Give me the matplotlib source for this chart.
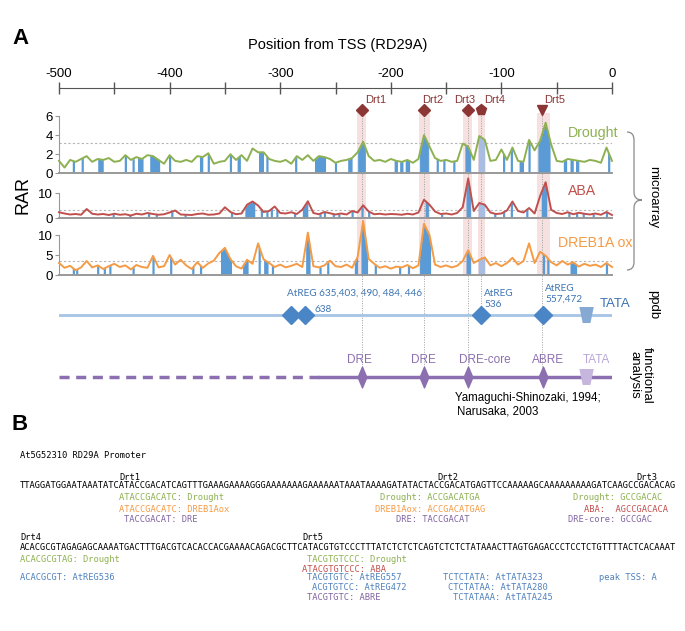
import numpy as np
import matplotlib
matplotlib.use("Agg")
import matplotlib.pyplot as plt
from matplotlib.patches import Polygon, Rectangle, PathPatch
from matplotlib.path import Path
from matplotlib.markers import MarkerStyle
from matplotlib.ticker import MultipleLocator

plt.rcParams['font.family'] = ['Liberation Sans', 'DejaVu Sans']
plt.rcParams['axes.unicode_minus'] = False

##### data
pos = np.arange(-500, 1, 5)   # position from TSS, every 5 bp

drought = [1.3, 0.6, 1.4, 1.2, 1.5, 1.8, 1.2, 1.5, 1.4, 1.6,
           1.2, 1.3, 1.9, 1.4, 1.7, 1.5, 1.9, 1.8, 1.4, 1.0,
           1.9, 1.3, 1.2, 1.4, 1.2, 1.8, 1.7, 2.1, 1.0, 1.2,
           1.3, 2.0, 1.4, 1.9, 1.3, 2.6, 2.2, 2.2, 1.5, 1.3,
           1.2, 1.4, 1.0, 1.8, 1.4, 1.9, 1.3, 1.8, 1.7, 1.5,
           1.1, 1.3, 1.4, 1.6, 2.2, 3.3, 1.8, 1.3, 1.4, 1.2,
           1.5, 1.3, 1.2, 1.4, 1.1, 1.5, 4.0, 2.8, 1.6, 1.3,
           1.4, 1.2, 1.3, 3.1, 2.8, 1.4, 3.9, 3.5, 1.3, 1.4,
           2.5, 1.4, 2.7, 1.3, 1.2, 3.5, 2.4, 3.4, 5.3, 3.0,
           1.3, 1.2, 1.5, 1.4, 1.3, 1.2, 1.4, 1.3, 1.1, 2.7,
           1.3]
aba = [2.5, 2.0, 1.6, 1.8, 1.5, 3.8, 1.9, 1.6, 1.8, 1.4,
       1.9, 1.5, 1.7, 1.2, 1.9, 1.6, 2.2, 1.8, 1.5, 1.7,
       2.4, 3.2, 1.6, 1.5, 1.4, 1.8, 2.0, 1.5, 1.6, 2.0,
       4.5, 2.6, 1.7, 2.0, 5.5, 6.8, 5.2, 2.6, 3.0, 4.8,
       2.2, 2.0, 2.5, 1.8, 3.5, 6.9, 2.2, 1.7, 2.6, 2.1,
       1.6, 2.0, 1.6, 3.0, 2.4, 5.3, 2.8, 1.7, 1.9, 1.6,
       1.8, 1.7, 1.5, 1.9, 1.6, 2.4, 7.5, 5.5, 2.8, 1.8,
       2.0, 1.6, 2.2, 4.5, 16.0, 3.0, 6.2, 5.5, 2.4, 1.8,
       2.0, 3.2, 6.8, 3.0, 2.4, 4.2, 2.0, 9.0, 14.5, 3.5,
       2.2, 1.8, 2.5, 1.7, 2.3, 1.9, 1.6, 2.0, 1.5, 2.6,
       1.4]
dreb1a = [3.0, 1.8, 2.3, 1.2, 1.9, 3.5, 1.9, 2.4, 1.5, 2.2,
          2.8, 2.0, 2.4, 1.4, 2.5, 2.0, 1.8, 4.8, 1.9, 2.2,
          5.0, 2.6, 3.8, 2.4, 1.5, 3.2, 1.8, 2.9, 3.6, 5.5,
          6.8, 4.0, 2.2, 1.6, 3.8, 2.8, 7.9, 3.9, 3.0, 2.0,
          2.6, 1.9, 2.3, 2.8, 2.0, 10.6, 2.2, 1.9, 2.4, 3.6,
          2.2, 2.0, 2.6, 1.8, 4.5, 13.5, 4.0, 2.8, 1.8, 2.2,
          1.6, 2.1, 1.9, 2.5, 1.7, 2.4, 12.8, 10.0, 2.6, 2.0,
          2.4, 1.9, 2.3, 3.5, 6.2, 3.0, 3.8, 4.4, 2.4, 3.0,
          2.2, 3.0, 4.3, 2.6, 3.5, 7.9, 3.0, 5.8, 4.8, 3.2,
          2.4, 3.5, 2.6, 3.2, 2.1, 2.8, 2.3, 2.6, 2.0, 3.0,
          2.0]

# stretches shaded blue under each profile (start, end)
drought_blue = [(-488, -486), (-480, -478), (-465, -460), (-441, -439), (-434, -432),
                (-429, -424), (-418, -409), (-401, -399), (-373, -370), (-366, -364),
                (-346, -344), (-339, -336), (-319, -315), (-313, -311), (-287, -285),
                (-269, -259), (-251, -249), (-239, -235), (-230, -223), (-197, -194),
                (-192, -189), (-187, -183), (-174, -166), (-159, -157), (-153, -151),
                (-144, -142), (-133, -128), (-99, -97), (-92, -90), (-84, -80),
                (-76, -74), (-67, -56), (-44, -41), (-38, -35), (-33, -30), (-4, -2)]
aba_blue = [(-452, -450), (-437, -435), (-420, -418), (-413, -411), (-399, -397),
            (-387, -385), (-345, -343), (-332, -323), (-318, -316), (-313, -311),
            (-309, -307), (-304, -302), (-288, -286), (-280, -275), (-265, -263),
            (-261, -259), (-253, -251), (-248, -246), (-236, -234), (-227, -225),
            (-221, -219), (-169, -166), (-155, -153), (-132, -128), (-107, -105),
            (-99, -97), (-92, -90), (-78, -76), (-64, -59), (-40, -38), (-33, -31),
            (-27, -25), (-18, -16), (-6, -4)]
dreb1a_blue = [(-488, -486), (-485, -483), (-466, -464), (-460, -458), (-455, -453),
               (-434, -432), (-416, -414), (-400, -398), (-380, -378), (-373, -371),
               (-354, -344), (-334, -329), (-320, -318), (-315, -311), (-308, -306),
               (-277, -273), (-265, -263), (-258, -256), (-233, -230), (-227, -221),
               (-215, -213), (-193, -191), (-185, -183), (-174, -164), (-132, -128),
               (-63, -61), (-59, -57), (-38, -32), (-6, -4)]
drt4_light = (-121, -115)

thresholds = [3.2, 3.3, 3.5]

drt_names = ['Drt1', 'Drt2', 'Drt3', 'Drt4', 'Drt5']
drt_pos = [-226, -170, -130, -118, -63]
drt_bands = [(-230.6, -222.5), (-174.2, -164.6), (-134.4, -126.8), (-121.5, -114.6), (-68.1, -56.1)]

ppdb_sites = [-290, -278, -118, -62]
func_sites = [-226, -170, -130, -62]
func_names = ['DRE', 'DRE', 'DRE-core', 'ABRE']
tata_pos = -23
func_known_from = -264

ruler_ticks = [-500, -400, -300, -200, -100, 0]

seq1 = "TTAGGATGGAATAAATATCATACCGACATCAGTTTGAAAGAAAAGGGAAAAAAAGAAAAAATAAATAAAAGATATACTACCGACATGAGTTCCAAAAAGCAAAAAAAAAGATCAAGCCGACACAG"
seq2 = "ACACGCGTAGAGAGCAAAATGACTTTGACGTCACACCACGAAAACAGACGCTTCATACGTGTCCCTTTATCTCTCTCAGTCTCTCTATAAACTTAGTGAGACCCTCCTCTGTTTTACTCACAAAT"
seq1_drt = [('Drt1', 19), ('Drt2', 80), ('Drt3', 118)]
seq2_drt = [('Drt4', 0), ('Drt5', 54)]
# (row, motif, search start, label, motif written first?, colour key)
seq1_notes = [(1, 'ATACCGACATC', 0, 'Drought', True, 'drought'),
              (1, 'ACCGACATGA', 70, 'Drought', False, 'drought'),
              (1, 'GCCGACAC', 110, 'Drought', False, 'drought'),
              (2, 'ATACCGACATC', 0, 'DREB1Aox', True, 'dreb'),
              (2, 'ACCGACATGAG', 70, 'DREB1Aox', False, 'dreb'),
              (2, 'AGCCGACACA', 110, 'ABA', False, 'aba'),
              (3, 'TACCGACAT', 0, 'DRE', True, 'func'),
              (3, 'TACCGACAT', 70, 'DRE', False, 'func'),
              (3, 'GCCGAC', 110, 'DRE-core', False, 'func')]
seq2_notes = [(1, 'ACACGCGTAG', 0, 'Drought', True, 'drought'),
              (1, 'TACGTGTCCC', 50, 'Drought', True, 'drought'),
              (2, 'ATACGTGTCCC', 50, 'ABA', True, 'aba'),
              (3, 'ACACGCGT', 0, 'AtREG536', True, 'ppdb'),
              (3, 'TACGTGTC', 50, 'AtREG557', True, 'ppdb'),
              (3, 'TCTCTATA', 75, 'AtTATA323', True, 'ppdb'),
              (3, 'A', 121, 'peak TSS', False, 'ppdb'),
              (4, 'ACGTGTCC', 50, 'AtREG472', True, 'ppdb'),
              (4, 'CTCTATAA', 75, 'AtTATA280', True, 'ppdb'),
              (5, 'TACGTGTC', 50, 'ABRE', True, 'func'),
              (5, 'TCTATAAA', 75, 'AtTATA245', True, 'ppdb')]

##### styling
W, H = 685, 631
X0, X1 = 59, 612
BLUE = '#5b9bd5'
colors = {'drought': '#8db150', 'aba': '#c0504d', 'dreb': '#f59b45',
          'func': '#8064a2', 'ppdb': '#4f81bd'}
DRT_RED = '#8b3535'
PPDB_BLUE = '#3d74b4'
FUNC_PURPLE = '#8c6fb0'
GRAY = '#999999'

fig = plt.figure(figsize=(W / 100, H / 100), dpi=100)


def box(x0, y0, x1, y1):
    # pixel box (origin top-left) -> figure fraction rect
    return [x0 / W, 1 - y1 / H, (x1 - x0) / W, (y1 - y0) / H]


ax_px = fig.add_axes([0, 0, 1, 1])
ax_px.set_xlim(0, W)
ax_px.set_ylim(H, 0)
ax_px.axis('off')

ax_main = fig.add_axes(box(X0, 0, X1, H))
ax_main.set_xlim(-500, 0)
ax_main.set_ylim(H, 0)
ax_main.axis('off')

# panel letters, title
ax_px.text(12, 38, 'A', fontsize=16, fontweight='bold', va='center')
ax_px.text(12, 424, 'B', fontsize=16, fontweight='bold', va='center')
ax_px.text(338, 45, 'Position from TSS (RD29A)', ha='center', va='center', fontsize=10.5)

# ruler
ax_r = fig.add_axes(box(X0, 88, X1, 88.01))
ax_r.set_xlim(-500, 0)
ax_r.set_yticks([])
for s in ['left', 'right', 'bottom']:
    ax_r.spines[s].set_visible(False)
ax_r.spines['top'].set_color('#555555')
ax_r.xaxis.tick_top()
ax_r.set_xticks(ruler_ticks)
ax_r.xaxis.set_minor_locator(MultipleLocator(50))
ax_r.tick_params(axis='x', which='both', direction='inout', length=8, width=1,
                 color='#555555', labelsize=9.5, pad=1.5)

# Drt bands, markers, guide lines
for (a, b) in drt_bands:
    ax_main.add_patch(Rectangle((a, 113), b - a, 162, facecolor='#eab3b3', alpha=0.4, lw=0, zorder=0))
bottoms = [377, 377, 377, 315, 377]
ax_main.vlines(drt_pos, 113, bottoms, colors='#a0a0a0', linestyles=(0, (1, 1.5)), lw=0.7, zorder=0)
drt_marker = ['D', 'D', 'D', 'p', 'v']
drt_msize = [6.5, 6.5, 6.5, 8, 7]
drt_dx = [3, -2, -14, 3, 2]
for name, x, m, ms, dx in zip(drt_names, drt_pos, drt_marker, drt_msize, drt_dx):
    ax_main.plot(x, 110, marker=m, ms=ms, color=DRT_RED, mec=DRT_RED, zorder=5, clip_on=False)
    ax_main.text(x + dx / 1.106, 100, name, fontsize=8, color=DRT_RED, ha='left', va='center')


# RAR tracks
def track(vals, blue, thr, ymax, yticks, y_base, ppu, color, label, lx, ly):
    ax = fig.add_axes(box(X0, y_base - ymax * ppu, X1, y_base))
    ax.set_xlim(-500, 0)
    ax.set_ylim(0, ymax)
    ax.patch.set_alpha(0)
    for (a, b) in blue:
        xs = np.linspace(a, b, 6)
        pc = ax.fill_between(xs, 0, np.interp(xs, pos, vals), color=BLUE, lw=0, zorder=2)
        pc.set_clip_on(False)
    xs = np.linspace(*drt4_light, 6)
    pc = ax.fill_between(xs, 0, np.interp(xs, pos, vals), color='#a9bde2', lw=0, zorder=2)
    pc.set_clip_on(False)
    ax.axhline(thr, color='#b5b5b5', lw=0.8, ls=(0, (2, 2)), zorder=1)
    ax.plot(pos, vals, color=color, lw=1.4, zorder=3, clip_on=False)
    ax.set_yticks(yticks)
    ax.set_xticks([])
    ax.spines[['top', 'right']].set_visible(False)
    ax.spines['left'].set_color(GRAY)
    ax.spines['bottom'].set_color(GRAY)
    ax.spines['bottom'].set_linewidth(1.4)
    ax.tick_params(axis='y', length=3, width=0.8, color=GRAY, labelsize=9.5, pad=1.5)
    ax_px.text(lx, ly, label, fontsize=10.2, color=color, ha='left', va='center')
    return ax


track(drought, drought_blue, thresholds[0], 6, [0, 2, 4, 6], 173.3, 9.55,
      colors['drought'], 'Drought', 568, 133)
track(aba, aba_blue, thresholds[1], 10, [0, 10], 218.5, 2.5,
      colors['aba'], 'ABA', 568, 191)
track(dreb1a, dreb1a_blue, thresholds[2], 10, [0, 5, 10], 275, 4.0,
      colors['dreb'], 'DREB1A ox', 558, 243)
ax_px.text(23, 195, 'RAR', fontsize=13, rotation=90, ha='center', va='center')

# ppdb row
y_ppdb = 315
ax_main.plot([-500, 0], [y_ppdb, y_ppdb], color='#a6c3e6', lw=2, zorder=1)
ax_main.plot(ppdb_sites, [y_ppdb] * len(ppdb_sites), ls='none', marker='D', ms=9,
             color='#4a86c6', zorder=3)


def tata(y, color):
    pts = [(tata_pos - 6.5, y - 8), (tata_pos + 6.5, y - 8), (tata_pos + 3.5, y + 8), (tata_pos - 3.5, y + 8)]
    ax_main.add_patch(Polygon(pts, closed=True, facecolor=color, edgecolor='none', zorder=4))


tata(y_ppdb, '#86a9d3')
ppdb_font = ['Lato', 'DejaVu Sans']
ax_px.text(287, 293, 'AtREG 635,403, 490, 484, 446', fontsize=7.2, color=PPDB_BLUE, family=ppdb_font, va='center')
ax_px.text(315, 309, '638', fontsize=7.2, color=PPDB_BLUE, family=ppdb_font, va='center')
ax_px.text(484, 299, 'AtREG\n536', fontsize=7.2, color=PPDB_BLUE, family=ppdb_font, va='center', linespacing=1.3)
ax_px.text(545, 294, 'AtREG\n557,472', fontsize=7.2, color=PPDB_BLUE, family=ppdb_font, va='center', linespacing=1.3)
ax_px.text(600, 304, 'TATA', fontsize=9.5, color=PPDB_BLUE, va='center')

# functional analysis row
y_func = 377
ax_main.plot([-500, func_known_from], [y_func, y_func], color=FUNC_PURPLE, lw=2.5,
             ls=(0, (2.9, 1.9)), zorder=1)
ax_main.plot([func_known_from, 0], [y_func, y_func], color=FUNC_PURPLE, lw=2.5, zorder=1)
tall_diamond = MarkerStyle(Path([(0, 1), (0.42, 0), (0, -1), (-0.42, 0), (0, 1)], closed=True))
ax_main.plot(func_sites, [y_func] * len(func_sites), ls='none', marker=tall_diamond, ms=15,
             color=FUNC_PURPLE, zorder=3)
tata(y_func, '#c6b6dd')
func_dx = [-3, -1, 17, 5]
for name, x, dx in zip(func_names, func_sites, func_dx):
    ax_main.text(x + dx / 1.106, 360, name, fontsize=8.5, color=FUNC_PURPLE, ha='center', va='center')
ax_main.text(tata_pos + 10 / 1.106, 360, 'TATA', fontsize=8.5, color='#b9a6d6', ha='center', va='center')
ax_px.text(455, 398, 'Yamaguchi-Shinozaki, 1994;', fontsize=8.3, va='center')
ax_px.text(457, 412, 'Narusaka, 2003', fontsize=8.3, va='center')

# right-hand group labels
brace = Path([(627, 132), (634, 132), (634, 140), (634, 192), (634, 200), (642, 200),
              (634, 200), (634, 208), (634, 262), (634, 270), (627, 270)],
             [Path.MOVETO, Path.CURVE3, Path.CURVE3, Path.LINETO, Path.CURVE3, Path.CURVE3,
              Path.CURVE3, Path.CURVE3, Path.LINETO, Path.CURVE3, Path.CURVE3])
ax_px.add_patch(PathPatch(brace, facecolor='none', edgecolor='#8a8a8a', lw=0.9))
ax_px.text(653, 197, 'microarray', rotation=-90, fontsize=9.5, ha='center', va='center')
ax_px.text(653, 305, 'ppdb', rotation=-90, fontsize=9.5, ha='center', va='center')
ax_px.text(641, 375, 'functional\nanalysis', rotation=-90, fontsize=9.5, ha='center', va='center',
           linespacing=1.0)

# panel B: promoter sequence
CHAR = 5.22
ax_s = fig.add_axes(box(20, 0, 20 + 125 * CHAR, H))
ax_s.set_xlim(0, 125)
ax_s.set_ylim(H, 0)
ax_s.axis('off')
mono = dict(family='DejaVu Sans Mono', fontsize=6.3, va='center', ha='left')
ax_s.text(0, 456, 'At5G52310 RD29A Promoter', **mono)


def seq_block(seq, drts, notes, y_drt, y_seq, rows):
    for name, col in drts:
        ax_s.text(col, y_drt, name, **mono)
    ax_s.text(0, y_seq, seq, **mono)
    for row, motif, start, label, motif_first, key in notes:
        idx = seq.find(motif, start)
        if motif_first:
            s, col = f'{motif}: {label}', idx
        else:
            prefix = f'{label}:  ' if label == 'ABA' else f'{label}: '
            s, col = prefix + motif, idx - len(prefix)
        ax_s.text(col, rows[row - 1], s, color=colors[key], **mono)


seq_block(seq1, seq1_drt, seq1_notes, 478, 486, [497, 509, 520])
seq_block(seq2, seq2_drt, seq2_notes, 538, 548, [559, 569, 578, 588, 598])

fig.savefig('out.png', dpi=100)
